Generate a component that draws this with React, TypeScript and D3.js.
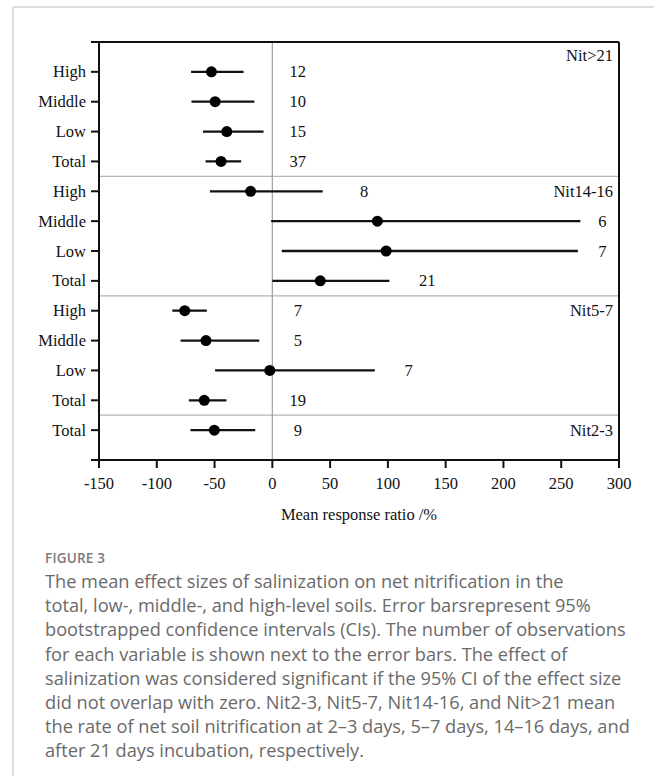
import React from "react";
import { scaleLinear, range } from "d3";

// rows from top to bottom
const groups = ["Nit>21", "Nit>21", "Nit>21", "Nit>21", "Nit14-16", "Nit14-16", "Nit14-16", "Nit14-16", "Nit5-7", "Nit5-7", "Nit5-7", "Nit5-7", "Nit2-3"];
const levels = ["High", "Middle", "Low", "Total", "High", "Middle", "Low", "Total", "High", "Middle", "Low", "Total", "Total"];
const means = [-52.7, -49.5, -39.4, -44.4, -18.8, 90.9, 98.5, 41.5, -75.8, -57.4, -2.2, -58.9, -50.2];
const lower = [-70.3, -70, -60, -57.8, -54, -1, 8.2, 0, -86.6, -79.4, -49.5, -72.2, -70.8];
const upper = [-24.9, -15.6, -7.6, -27, 43.6, 266.6, 264.4, 101.3, -56.7, -11.3, 88.7, -39.7, -14.8];
const counts = [12, 10, 15, 37, 8, 6, 7, 21, 7, 5, 7, 19, 9];
// where the count is written, in x units
const countAt = [22, 22, 22, 22, 79.5, 285.7, 285.7, 134, 22, 22, 118, 22, 22];

const groupNames = ["Nit>21", "Nit14-16", "Nit5-7", "Nit2-3"];
const xTicks = [-150, -100, -50, 0, 50, 100, 150, 200, 250, 300];

const captionLines = [
  "The mean effect sizes of salinization on net nitrification in the",
  "total, low-, middle-, and high-level soils. Error barsrepresent 95%",
  "bootstrapped confidence intervals (CIs). The number of observations",
  "for each variable is shown next to the error bars. The effect of",
  "salinization was considered significant if the 95% CI of the effect size",
  "did not overlap with zero. Nit2-3, Nit5-7, Nit14-16, and Nit>21 mean",
  "the rate of net soil nitrification at 2\u20133 days, 5\u20137 days, 14\u201316 days, and",
  "after 21 days incubation, respectively.",
];

const serif = "'Liberation Serif', 'Times New Roman', serif";

function SText({ x, y, anchor = "start", children }: any) {
  return (
    <text x={x} y={y} textAnchor={anchor} fontFamily={serif} fontSize={16.5} fill="#111">
      {children}
    </text>
  );
}

export default function App() {
  const left = 99, right = 619, top = 42, bottom = 460;
  const x = scaleLinear().domain([-150, 300]).range([left, right]);
  const y = scaleLinear().domain([0, 14]).range([top, bottom]);

  // first row of each group
  const groupStarts = groupNames.map((g) => groups.indexOf(g));

  return (
    <svg
      width={654}
      height={776}
      style={{ position: "absolute", left: 0, top: 0, background: "#fff" }}
    >
      {/* card border */}
      <line x1={13} x2={654} y1={7} y2={7} stroke="#ddd" strokeWidth={2} />
      <line x1={13} x2={13} y1={7} y2={776} stroke="#ddd" strokeWidth={2} />

      {/* separators between groups */}
      {groupStarts.slice(1).map((s) => (
        <line key={s} x1={left} x2={right} y1={y(s + 0.5)} y2={y(s + 0.5)} stroke="#b5b5b5" strokeWidth={1.2} />
      ))}
      {/* zero line */}
      <line x1={x(0)} x2={x(0)} y1={top} y2={bottom} stroke="#a0a0a0" strokeWidth={1.2} />

      {/* frame */}
      <line x1={left - 8} x2={right} y1={top} y2={top} stroke="#111" strokeWidth={2} />
      <line x1={right} x2={right} y1={top} y2={bottom} stroke="#111" strokeWidth={2} />
      <line x1={left} x2={left} y1={top} y2={bottom} stroke="#111" strokeWidth={2} />
      <line x1={left - 8} x2={right} y1={bottom} y2={bottom} stroke="#111" strokeWidth={2} />

      {/* y axis ticks and labels */}
      {levels.map((lv, i) => (
        <g key={i}>
          <line x1={left - 8} x2={left} y1={y(i + 1)} y2={y(i + 1)} stroke="#111" strokeWidth={2} />
          <SText x={left - 13} y={y(i + 1) + 5.5} anchor="end">{lv}</SText>
        </g>
      ))}

      {/* x axis */}
      {xTicks.map((t) => (
        <g key={t}>
          <line x1={x(t)} x2={x(t)} y1={bottom} y2={bottom + 8} stroke="#111" strokeWidth={2} />
          <SText x={x(t)} y={489} anchor="middle">{t}</SText>
        </g>
      ))}
      <SText x={(left + right) / 2} y={520} anchor="middle">Mean response ratio /%</SText>

      {/* group names */}
      {groupNames.map((g, k) => (
        <SText key={g} x={right - 6} y={k === 0 ? y(0.45) + 5.5 : y(groupStarts[k] + 1) + 5.5} anchor="end">
          {g}
        </SText>
      ))}

      {/* error bars, means, counts */}
      {range(means.length).map((i) => (
        <g key={i}>
          <line x1={x(lower[i])} x2={x(upper[i])} y1={y(i + 1)} y2={y(i + 1)} stroke="#111" strokeWidth={2.3} />
          <circle cx={x(means[i])} cy={y(i + 1)} r={5.5} fill="#000" />
          <SText x={x(countAt[i])} y={y(i + 1) + 5.5} anchor="middle">{counts[i]}</SText>
        </g>
      ))}

      {/* caption */}
      <text x={45} y={563} fontFamily="'Open Sans', sans-serif" fontSize={13.5} fontWeight={600} fill="#7a7a7a" letterSpacing={0.2}>
        FIGURE 3
      </text>
      <text fontFamily="'Open Sans', sans-serif" fontSize={18.2} fill="#6a6a6a">
        {captionLines.map((l, i) => (
          <tspan key={i} x={45} y={588 + i * 24.2}>{l}</tspan>
        ))}
      </text>
    </svg>
  );
}
